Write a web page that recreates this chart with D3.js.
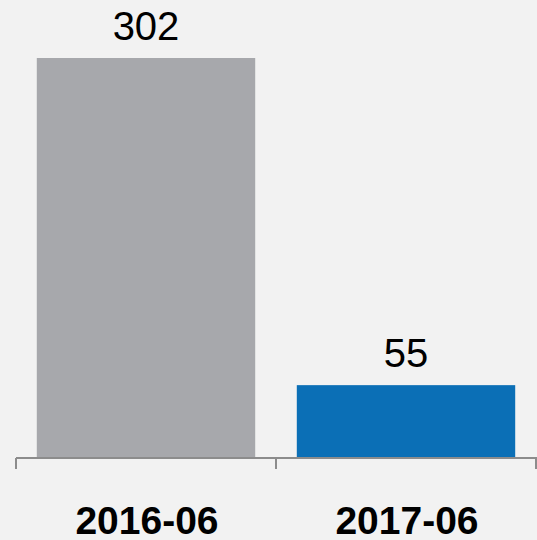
<!DOCTYPE html>
<html>
<head>
<meta charset="utf-8">
<script src="https://cdn.jsdelivr.net/npm/d3@7"></script>
<style>
  body { margin: 0; background: #f2f2f2; }
  svg { display: block; }
</style>
</head>
<body>
<script>
// chart data
var categories = ["2016-06", "2017-06"];
var values = [302, 55];
var barColors = ["#a7a8ac", "#0b6fb6"];

var width = 537, height = 540;
var axisY = 458;

var svg = d3.select("body")
            .append("svg")
            .attr("width", width)
            .attr("height", height);

svg.append("rect")
   .attr("width", width)
   .attr("height", height)
   .attr("fill", "#f2f2f2");

// scales
var xScale = d3.scaleBand()
               .domain(categories)
               .range([16, 536])
               .paddingInner(0.16)
               .paddingOuter(0.08);

var yScale = d3.scaleLinear()
               .domain([0, 302])
               .range([axisY, 58]);

// bars
svg.selectAll(".bar")
   .data(values)
   .enter()
   .append("rect")
   .attr("class", "bar")
   .attr("x", function(d, i) { return xScale(categories[i]); })
   .attr("y", function(d) { return yScale(d); })
   .attr("width", xScale.bandwidth())
   .attr("height", function(d) { return axisY - yScale(d); })
   .attr("fill", function(d, i) { return barColors[i]; });

// value labels
svg.selectAll(".val")
   .data(values)
   .enter()
   .append("text")
   .attr("class", "val")
   .attr("x", function(d, i) { return xScale(categories[i]) + xScale.bandwidth() / 2; })
   .attr("y", function(d) { return yScale(d) - 18; })
   .attr("text-anchor", "middle")
   .attr("font-family", "Liberation Sans, Arial, sans-serif")
   .attr("font-size", "40px")
   .attr("fill", "#000")
   .text(function(d) { return d; });

// x axis: baseline with tick marks at band edges
var edges = [16, 276, 536];
svg.append("line")
   .attr("x1", 16)
   .attr("x2", 537)
   .attr("y1", axisY)
   .attr("y2", axisY)
   .attr("stroke", "#8c8c8c")
   .attr("stroke-width", 2);

svg.selectAll(".tick")
   .data(edges)
   .enter()
   .append("line")
   .attr("class", "tick")
   .attr("x1", function(d) { return d; })
   .attr("x2", function(d) { return d; })
   .attr("y1", axisY)
   .attr("y2", axisY + 11)
   .attr("stroke", "#8c8c8c")
   .attr("stroke-width", 2);

// category labels
svg.selectAll(".cat")
   .data(categories)
   .enter()
   .append("text")
   .attr("class", "cat")
   .attr("x", function(d) { return xScale(d) + xScale.bandwidth() / 2 + 1; })
   .attr("y", 534)
   .attr("text-anchor", "middle")
   .attr("font-family", "Liberation Sans, Arial, sans-serif")
   .attr("font-weight", "bold")
   .attr("font-size", "39px")
   .attr("fill", "#000")
   .text(function(d) { return d; });
</script>
</body>
</html>
